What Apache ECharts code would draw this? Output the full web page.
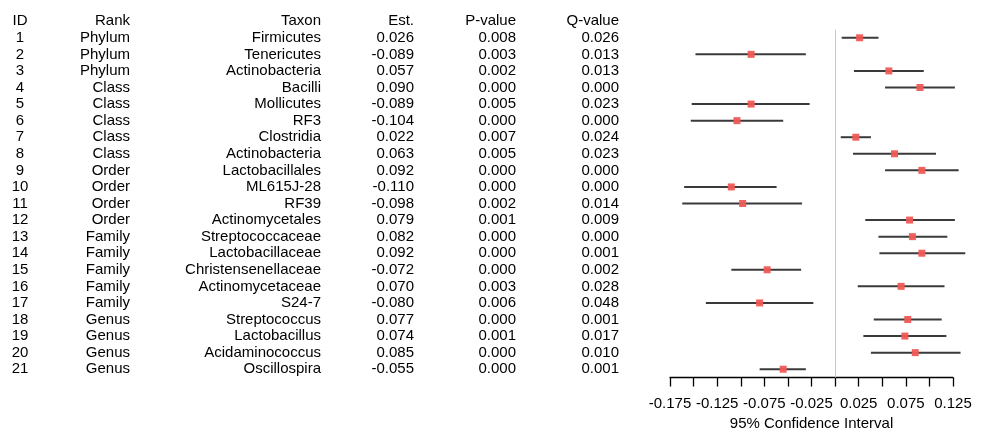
<!DOCTYPE html>
<html>
<head>
<meta charset="utf-8">
<script src="https://cdn.jsdelivr.net/npm/echarts@6/dist/echarts.min.js"></script>
<style>
  html, body { margin: 0; padding: 0; background: #fff; }
  #chart { width: 985px; height: 430px; }
</style>
</head>
<body>
<div id="chart"></div>
<script>
// Table columns
const ids = ['1','2','3','4','5','6','7','8','9','10','11','12','13','14','15','16','17','18','19','20','21'];
const ranks = ['Phylum','Phylum','Phylum','Class','Class','Class','Class','Class','Order','Order','Order','Order',
  'Family','Family','Family','Family','Family','Genus','Genus','Genus','Genus'];
const taxa = ['Firmicutes','Tenericutes','Actinobacteria','Bacilli','Mollicutes','RF3','Clostridia','Actinobacteria',
  'Lactobacillales','ML615J-28','RF39','Actinomycetales','Streptococcaceae','Lactobacillaceae','Christensenellaceae',
  'Actinomycetaceae','S24-7','Streptococcus','Lactobacillus','Acidaminococcus','Oscillospira'];
const estimates = [0.026,-0.089,0.057,0.090,-0.089,-0.104,0.022,0.063,0.092,-0.110,-0.098,0.079,0.082,0.092,-0.072,
  0.070,-0.080,0.077,0.074,0.085,-0.055];
const pValues = ['0.008','0.003','0.002','0.000','0.005','0.000','0.007','0.005','0.000','0.000','0.002','0.001',
  '0.000','0.000','0.000','0.003','0.006','0.000','0.001','0.000','0.000'];
const qValues = ['0.026','0.013','0.013','0.000','0.023','0.000','0.024','0.023','0.000','0.000','0.014','0.009',
  '0.000','0.001','0.002','0.028','0.048','0.001','0.017','0.010','0.001'];

// 95% confidence interval bounds
const ciLower = [0.007,-0.148,0.020,0.053,-0.152,-0.153,0.006,0.019,0.053,-0.160,-0.162,0.032,0.046,0.047,-0.110,
  0.024,-0.137,0.041,0.030,0.038,-0.080];
const ciUpper = [0.046,-0.031,0.094,0.127,-0.027,-0.055,0.038,0.107,0.131,-0.062,-0.035,0.127,0.119,0.138,-0.036,
  0.116,-0.023,0.113,0.118,0.133,-0.031];

// Axis ticks
const axisMin = -0.175, axisMax = 0.125, axisStep = 0.025;

const FONT = 'Liberation Sans, Arial, sans-serif';
const FS = 15;

// Column definitions for the table: header, values, right edge (or centre), alignment
const columns = [
  { head: 'ID', values: ids, x: 20, align: 'center' },
  { head: 'Rank', values: ranks, x: 130, align: 'right' },
  { head: 'Taxon', values: taxa, x: 321, align: 'right' },
  { head: 'Est.', values: estimates.map(v => v.toFixed(3)), x: 414, align: 'right' },
  { head: 'P-value', values: pValues, x: 516, align: 'right' },
  { head: 'Q-value', values: qValues, x: 619, align: 'right' }
];

const chart = echarts.init(document.getElementById('chart'), null, { renderer: 'canvas' });

const tableYAxes = columns.map(c => ({
  type: 'category',
  gridIndex: 1,
  inverse: true,
  position: 'left',
  offset: -c.x,
  data: [c.head].concat(c.values),
  axisLine: { show: false },
  axisTick: { show: false },
  splitLine: { show: false },
  axisLabel: {
    margin: 0,
    align: c.align,
    color: '#000',
    fontFamily: FONT,
    fontSize: FS,
    interval: 0
  }
}));

const option = {
  animation: false,
  backgroundColor: '#fff',
  grid: [
    { left: 670, right: 32, top: 29.5, bottom: 52.5, outerBoundsMode: 'none', containLabel: false },
    { left: 0, width: 640, top: 13, bottom: 52.5, outerBoundsMode: 'none', containLabel: false }
  ],
  xAxis: [
    {
      type: 'value',
      gridIndex: 0,
      min: axisMin,
      max: axisMax,
      interval: axisStep,
      name: '95% Confidence Interval',
      nameLocation: 'middle',
      nameGap: 38,
      nameTextStyle: { color: '#000', fontFamily: FONT, fontSize: FS },
      axisLine: { show: true, lineStyle: { color: '#000', width: 1.3 } },
      axisTick: { show: true, length: 9, lineStyle: { color: '#000', width: 1.3 } },
      splitLine: { show: false },
      axisLabel: {
        color: '#000',
        fontFamily: FONT,
        fontSize: FS,
        margin: 19,
        showMinLabel: true,
        showMaxLabel: true,
        formatter: function (v) {
          const k = Math.round((v - axisMin) / axisStep);
          return k % 2 === 0 ? v.toFixed(3) : '';
        }
      }
    },
    {
      type: 'value',
      gridIndex: 1,
      show: false
    }
  ],
  yAxis: [
    {
      type: 'category',
      gridIndex: 0,
      inverse: true,
      data: ids,
      show: false
    }
  ].concat(tableYAxes),
  series: [
    {
      type: 'custom',
      name: 'CI',
      xAxisIndex: 0,
      yAxisIndex: 0,
      data: ids.map((d, i) => [ciLower[i], i, ciUpper[i]]),
      renderItem: function (params, api) {
        const a = api.coord([api.value(0), api.value(1)]);
        const b = api.coord([api.value(2), api.value(1)]);
        return {
          type: 'line',
          shape: { x1: a[0], y1: a[1], x2: b[0], y2: b[1] },
          style: { stroke: '#3a3a3a', lineWidth: 2 }
        };
      },
      z: 2
    },
    {
      type: 'scatter',
      name: 'Est.',
      xAxisIndex: 0,
      yAxisIndex: 0,
      data: ids.map((d, i) => [estimates[i], i]),
      symbol: 'rect',
      symbolSize: 7,
      itemStyle: { color: '#f05a55', opacity: 0.95 },
      markLine: {
        silent: true,
        symbol: 'none',
        label: { show: false },
        lineStyle: { color: '#c8c8c8', width: 1, type: 'solid' },
        data: [{ xAxis: 0 }]
      },
      z: 3
    }
  ]
};

chart.setOption(option);
</script>
</body>
</html>
